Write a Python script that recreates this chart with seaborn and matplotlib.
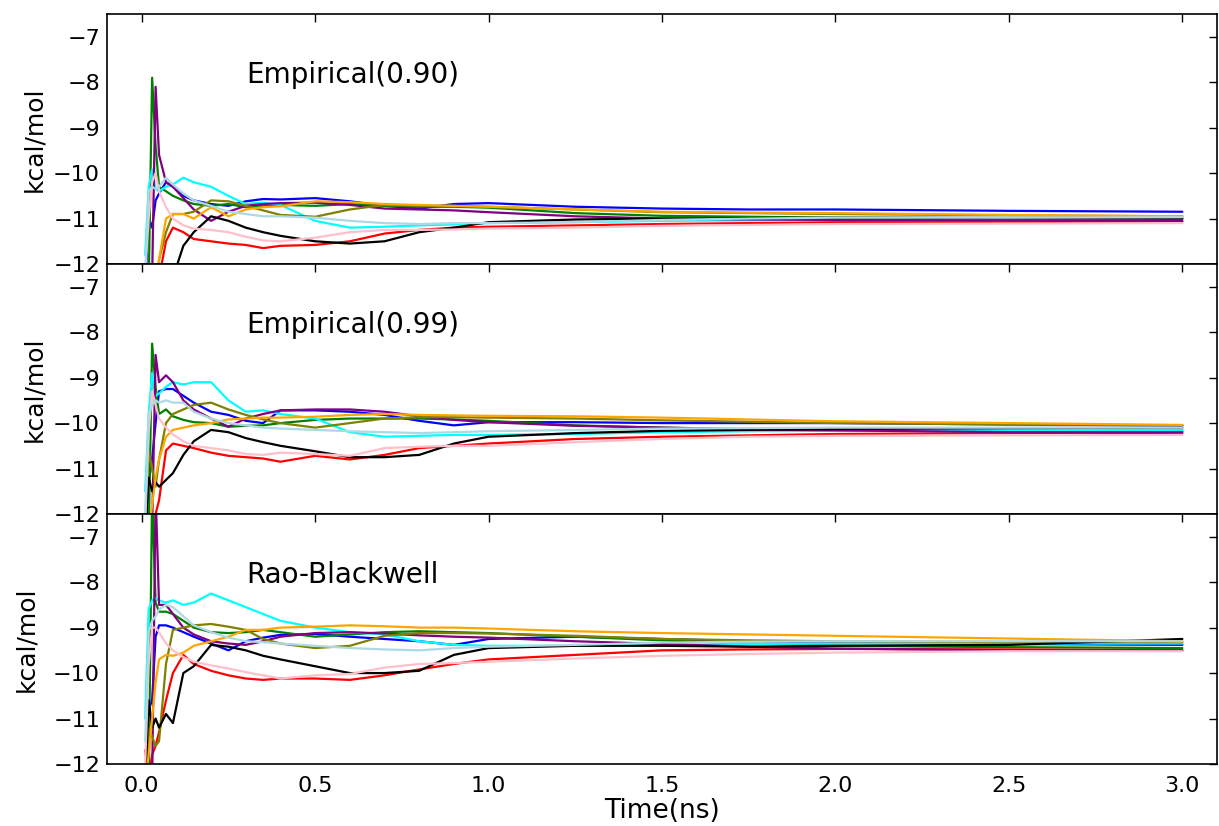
import numpy as np
import pandas as pd
import matplotlib
matplotlib.use("Agg")
import matplotlib.pyplot as plt
import seaborn as sns

# time grid (ns)
time_ns = [0.01, 0.02, 0.03, 0.04, 0.05, 0.07, 0.09, 0.12, 0.15, 0.2, 0.25, 0.3, 0.35,
           0.4, 0.5, 0.6, 0.7, 0.8, 0.9, 1.0, 1.25, 1.5, 1.75, 2.0, 2.5, 3.0]

series_names = ["blue", "green", "red", "cyan", "purple", "olive", "black", "orange", "pink", "lightblue"]
panel_titles = ["Empirical(0.90)", "Empirical(0.99)", "Rao-Blackwell"]

# ---- Panel 1: Empirical(0.90) ----
emp90_blue = [-12.5, -11.0, -11.2, -10.6, -10.45, -10.2, -10.3, -10.5, -10.6, -10.68, -10.72, -10.62, -10.57,
              -10.58, -10.55, -10.62, -10.72, -10.78, -10.68, -10.66, -10.74, -10.78, -10.8, -10.8, -10.83, -10.85]
emp90_green = [-12.5, -12.5, -7.9, -9.4, -10.3, -10.4, -10.5, -10.6, -10.68, -10.72, -10.68, -10.75, -10.72,
               -10.7, -10.72, -10.68, -10.72, -10.74, -10.74, -10.76, -10.88, -10.94, -10.96, -10.98, -10.99, -11.0]
emp90_red = [-12.5, -12.5, -12.5, -12.5, -12.3, -11.5, -11.2, -11.3, -11.45, -11.5, -11.55, -11.58, -11.65,
             -11.6, -11.58, -11.5, -11.33, -11.25, -11.2, -11.18, -11.15, -11.12, -11.1, -11.08, -11.08, -11.07]
emp90_cyan = [-11.8, -10.3, -9.92, -10.35, -10.4, -10.3, -10.25, -10.1, -10.2, -10.3, -10.5, -10.68, -10.65,
              -10.7, -11.05, -11.2, -11.18, -11.15, -11.13, -11.1, -11.08, -11.05, -11.04, -11.03, -11.02, -11.02]
emp90_purple = [-12.5, -12.5, -12.3, -8.1, -9.6, -10.2, -10.3, -10.55, -10.8, -11.05, -10.85, -10.72, -10.68,
                -10.66, -10.65, -10.7, -10.78, -10.8, -10.82, -10.86, -10.95, -11.0, -11.02, -11.03, -11.04, -11.05]
emp90_olive = [-12.5, -12.0, -12.3, -12.5, -11.9, -11.3, -10.9, -10.9, -10.85, -10.6, -10.62, -10.72, -10.82,
               -10.92, -10.96, -10.8, -10.7, -10.72, -10.72, -10.74, -10.8, -10.86, -10.88, -10.9, -10.93, -10.95]
emp90_black = [-12.5, -12.5, -12.5, -12.5, -12.5, -12.5, -12.3, -11.6, -11.3, -10.95, -11.05, -11.2, -11.3,
               -11.38, -11.5, -11.55, -11.5, -11.3, -11.2, -11.08, -11.02, -11.0, -10.99, -10.98, -10.99, -11.0]
emp90_orange = [-12.5, -12.5, -12.5, -12.5, -11.9, -11.0, -10.9, -10.9, -11.0, -10.75, -10.95, -10.8, -10.75,
                -10.73, -10.62, -10.64, -10.68, -10.7, -10.72, -10.74, -10.8, -10.85, -10.87, -10.88, -10.92, -10.95]
emp90_pink = [-12.2, -11.0, -10.2, -10.0, -10.4, -10.75, -11.0, -11.15, -11.22, -11.25, -11.3, -11.4, -11.48,
              -11.5, -11.42, -11.3, -11.25, -11.25, -11.24, -11.22, -11.2, -11.16, -11.14, -11.12, -11.11, -11.1]
emp90_lightblue = [-12.2, -10.4, -10.3, -10.35, -10.3, -10.1, -10.25, -10.45, -10.6, -10.72, -10.85, -10.9, -10.95,
                   -10.95, -10.98, -11.05, -11.1, -11.12, -11.1, -11.1, -11.08, -11.03, -11.0, -10.98, -10.98, -10.97]

# ---- Panel 2: Empirical(0.99) ----
emp99_blue = [-12.5, -11.3, -10.8, -10.0, -9.3, -9.25, -9.25, -9.4, -9.55, -9.75, -9.82, -9.95, -10.0,
              -9.72, -9.72, -9.75, -9.82, -9.95, -10.05, -9.98, -9.98, -10.0, -10.0, -10.0, -10.03, -10.05]
emp99_green = [-12.5, -12.5, -8.25, -9.2, -9.8, -9.7, -9.85, -9.93, -9.98, -10.0, -10.08, -10.06, -10.05,
               -10.0, -9.93, -9.9, -9.9, -9.9, -9.92, -9.95, -10.05, -10.1, -10.13, -10.15, -10.17, -10.18]
emp99_red = [-12.5, -12.5, -12.5, -12.0, -11.7, -10.6, -10.45, -10.5, -10.55, -10.65, -10.72, -10.75, -10.78,
             -10.85, -10.72, -10.8, -10.7, -10.55, -10.5, -10.45, -10.35, -10.3, -10.27, -10.24, -10.22, -10.2]
emp99_cyan = [-11.5, -9.8, -8.9, -9.4, -9.35, -9.2, -9.1, -9.15, -9.1, -9.1, -9.5, -9.75, -9.72,
              -9.8, -9.9, -10.2, -10.3, -10.28, -10.26, -10.26, -10.24, -10.2, -10.18, -10.17, -10.15, -10.15]
emp99_purple = [-12.5, -12.5, -12.3, -8.5, -9.1, -8.95, -9.1, -9.5, -9.7, -9.9, -10.08, -9.9, -9.8,
                -9.72, -9.7, -9.7, -9.75, -9.85, -9.93, -9.98, -10.06, -10.1, -10.14, -10.16, -10.2, -10.22]
emp99_olive = [-12.5, -10.6, -11.0, -11.4, -10.8, -10.0, -9.8, -9.7, -9.6, -9.55, -9.7, -9.82, -9.92,
               -10.0, -10.1, -10.0, -9.9, -9.87, -9.87, -9.88, -9.9, -9.94, -9.97, -10.0, -10.03, -10.05]
emp99_black = [-12.5, -11.2, -11.5, -11.3, -11.4, -11.25, -11.1, -10.7, -10.4, -10.15, -10.2, -10.33, -10.42,
               -10.5, -10.62, -10.75, -10.75, -10.7, -10.45, -10.3, -10.22, -10.17, -10.15, -10.13, -10.11, -10.1]
emp99_orange = [-12.5, -12.5, -11.8, -11.2, -10.8, -10.3, -10.15, -10.1, -10.05, -10.0, -9.92, -9.9, -9.88,
                -9.88, -9.86, -9.82, -9.8, -9.82, -9.83, -9.84, -9.85, -9.88, -9.92, -9.96, -10.0, -10.04]
emp99_pink = [-12.2, -10.2, -9.3, -9.6, -9.9, -10.1, -10.25, -10.4, -10.5, -10.55, -10.6, -10.68, -10.7,
              -10.65, -10.68, -10.72, -10.55, -10.52, -10.5, -10.5, -10.42, -10.35, -10.3, -10.28, -10.27, -10.26]
emp99_lightblue = [-12.0, -9.8, -9.6, -9.5, -9.55, -9.5, -9.55, -9.55, -9.75, -9.9, -10.0, -10.05, -10.1,
                   -10.12, -10.15, -10.18, -10.2, -10.22, -10.2, -10.18, -10.15, -10.12, -10.11, -10.1, -10.1, -10.1]

# ---- Panel 3: Rao-Blackwell ----
rb_blue = [-12.5, -10.8, -10.6, -9.2, -8.95, -8.95, -9.0, -9.1, -9.2, -9.35, -9.5, -9.3, -9.22,
           -9.16, -9.14, -9.2, -9.25, -9.3, -9.38, -9.25, -9.2, -9.25, -9.3, -9.33, -9.36, -9.38]
rb_green = [-12.5, -12.5, -6.0, -8.45, -8.65, -8.65, -8.7, -8.85, -9.0, -9.1, -9.12, -9.1, -9.05,
            -9.1, -9.2, -9.15, -9.1, -9.08, -9.1, -9.12, -9.2, -9.28, -9.35, -9.4, -9.43, -9.45]
rb_red = [-11.7, -12.3, -11.8, -11.6, -11.3, -10.6, -10.0, -9.6, -9.8, -9.95, -10.05, -10.12, -10.15,
          -10.12, -10.12, -10.15, -10.05, -9.92, -9.8, -9.7, -9.6, -9.5, -9.48, -9.47, -9.48, -9.5]
rb_cyan = [-11.0, -8.6, -8.4, -8.35, -8.4, -8.45, -8.4, -8.5, -8.45, -8.25, -8.4, -8.55, -8.7,
           -8.85, -9.0, -9.1, -9.15, -9.3, -9.38, -9.4, -9.4, -9.38, -9.36, -9.35, -9.35, -9.35]
rb_purple = [-12.5, -12.5, -12.5, -6.0, -8.5, -8.5, -8.7, -9.0, -9.15, -9.3, -9.35, -9.38, -9.3,
             -9.2, -9.12, -9.1, -9.13, -9.17, -9.2, -9.22, -9.3, -9.36, -9.42, -9.46, -9.5, -9.5]
rb_olive = [-12.5, -11.2, -11.4, -11.6, -11.5, -9.8, -9.05, -9.0, -8.95, -8.92, -8.98, -9.05, -9.25,
            -9.35, -9.45, -9.4, -9.18, -9.12, -9.12, -9.13, -9.18, -9.25, -9.28, -9.3, -9.32, -9.32]
rb_black = [-12.5, -10.6, -11.2, -11.0, -11.2, -10.9, -11.1, -10.0, -9.85, -9.38, -9.42, -9.5, -9.62,
            -9.7, -9.85, -10.0, -10.0, -9.95, -9.6, -9.45, -9.4, -9.4, -9.42, -9.4, -9.38, -9.25]
rb_orange = [-12.5, -11.8, -11.0, -10.2, -9.7, -9.6, -9.62, -9.55, -9.4, -9.3, -9.2, -9.05, -9.05,
             -9.0, -8.98, -8.95, -8.97, -9.0, -9.0, -9.02, -9.08, -9.12, -9.15, -9.18, -9.24, -9.3]
rb_pink = [-12.0, -9.8, -9.0, -9.0, -9.1, -9.35, -9.5, -9.65, -9.75, -9.83, -9.9, -9.98, -10.05,
           -10.12, -10.05, -10.02, -9.88, -9.8, -9.78, -9.75, -9.68, -9.62, -9.58, -9.55, -9.52, -9.52]
rb_lightblue = [-11.5, -9.1, -8.85, -8.75, -8.6, -8.5, -8.55, -8.75, -8.95, -9.1, -9.22, -9.3, -9.32,
                -9.35, -9.4, -9.45, -9.48, -9.5, -9.45, -9.42, -9.38, -9.33, -9.31, -9.3, -9.3, -9.3]

panels = [
    [emp90_blue, emp90_green, emp90_red, emp90_cyan, emp90_purple, emp90_olive, emp90_black, emp90_orange, emp90_pink, emp90_lightblue],
    [emp99_blue, emp99_green, emp99_red, emp99_cyan, emp99_purple, emp99_olive, emp99_black, emp99_orange, emp99_pink, emp99_lightblue],
    [rb_blue, rb_green, rb_red, rb_cyan, rb_purple, rb_olive, rb_black, rb_orange, rb_pink, rb_lightblue],
]

palette = {"blue": "#0000ff", "green": "#008000", "red": "#ff0000", "cyan": "#00ffff",
           "purple": "#800080", "olive": "#808000", "black": "#000000", "orange": "#ffa500",
           "pink": "#ffc0cb", "lightblue": "#add8e6"}

sns.set_style("white")
plt.rcParams["font.family"] = ["DejaVu Sans"]
plt.rcParams["text.color"] = "black"
plt.rcParams["axes.labelcolor"] = "black"
plt.rcParams["xtick.color"] = "black"
plt.rcParams["ytick.color"] = "black"

fig, axes = plt.subplots(3, 1, figsize=(12.19, 8.26), dpi=100, sharex=True)
fig.subplots_adjust(left=0.0878, right=0.9984, top=0.983, bottom=0.0751, hspace=0)

label_pads = [5, 5, 11]
for ax, title, data, lp in zip(axes, panel_titles, panels, label_pads):
    rows = []
    for name, vals in zip(series_names, data):
        for t, v in zip(time_ns, vals):
            rows.append({"t": t, "val": v, "series": name})
    df = pd.DataFrame(rows)
    sns.lineplot(data=df, x="t", y="val", hue="series", hue_order=series_names,
                 palette=palette, estimator=None, sort=False, legend=False,
                 linewidth=1.6, ax=ax)
    ax.set_xlim(-0.1, 3.1)
    ax.set_ylim(-12, -6.5)
    ax.set_yticks([-12, -11, -10, -9, -8, -7])
    ax.set_ylabel("kcal/mol", fontsize=18, labelpad=lp)
    ax.set_xlabel("")
    ax.text(0.3, -7.85, title, fontsize=20, ha="left", va="center", color="black")
    ax.tick_params(axis="both", direction="in", length=6, width=1, top=True, right=True,
                   labelsize=16)
    ax.tick_params(axis="y", pad=5)
    ax.tick_params(axis="x", pad=9)
    for sp in ax.spines.values():
        sp.set_visible(True)
        sp.set_color("black")
        sp.set_linewidth(1.2)

axes[-1].set_xticks([0.0, 0.5, 1.0, 1.5, 2.0, 2.5, 3.0])
axes[-1].set_xticklabels(["0.0", "0.5", "1.0", "1.5", "2.0", "2.5", "3.0"])
axes[-1].set_xlabel("Time(ns)", fontsize=19, labelpad=1)

fig.savefig("out.png", dpi=100)
